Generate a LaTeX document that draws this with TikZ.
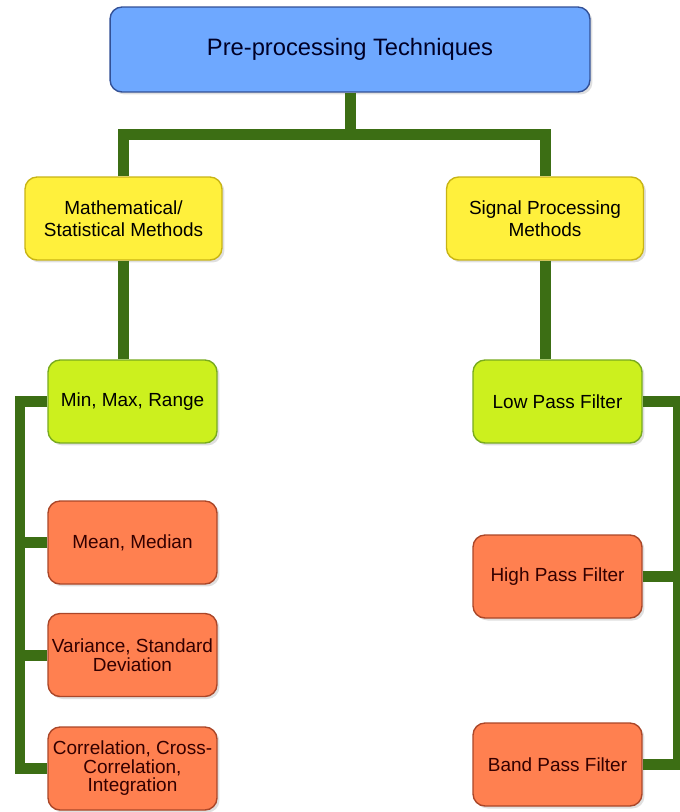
\documentclass[tikz,border=0pt]{standalone}
\usepackage{fontspec}
\setmainfont{Liberation Sans}
\usetikzlibrary{shadows}

\definecolor{topblue}{RGB}{110,168,255}
\definecolor{topedge}{RGB}{50,80,150}
\definecolor{methyellow}{RGB}{255,240,60}
\definecolor{methedge}{RGB}{200,180,20}
\definecolor{limegreen}{RGB}{204,240,30}
\definecolor{limeedge}{RGB}{120,170,30}
\definecolor{salmon}{RGB}{255,128,80}
\definecolor{salmonedge}{RGB}{170,70,40}
\definecolor{linkgreen}{RGB}{60,110,20}

\begin{document}
\begin{tikzpicture}[x=0.02cm,y=-0.02cm,
  box/.style={rounded corners=0.24cm,draw,line width=0.8pt,align=center,inner sep=0pt,
    minimum width=3.38cm,minimum height=1.66cm,
    font=\fontsize{10.8}{10.5}\selectfont,
    drop shadow={shadow xshift=0.05cm,shadow yshift=-0.05cm,opacity=0.25}},
  topbox/.style={box,fill=topblue,draw=topedge,text=black!85!blue,
    minimum width=9.6cm,minimum height=1.7cm,font=\fontsize{13.5}{14}\selectfont},
  groupbox/.style={box,fill=methyellow,draw=methedge,minimum width=3.94cm,
    font=\fontsize{10.8}{12.5}\selectfont},
  firstbox/.style={box,fill=limegreen,draw=limeedge},
  otherbox/.style={box,fill=salmon,draw=salmonedge,text=black!80!red},
  link/.style={draw=linkgreen,line width=0.22cm}]
\useasboundingbox (0,0) rectangle (680,812);

\node[topbox] (top) at (350,49.5) {Pre-processing Techniques};
\node[groupbox] (math) at (123.5,218.5) {Mathematical/\\Statistical Methods};
\node[groupbox] (sig) at (545,218.5) {Signal Processing\\Methods};

\coordinate (split) at (350,134);
\coordinate (lbus) at (20,0);
\coordinate (rbus) at (678,0);

\draw[link] (top.south) -- (split);
\draw[link] (math.north) |- (split) -| (sig.north);

% statistical side
\node[firstbox] (minmax) at (132.5,401.5) {Min, Max, Range};
\node[otherbox] (mean) at (132.5,542.5) {Mean, Median};
\node[otherbox] (var) at (132.5,655) {Variance, Standard\\Deviation};
\node[otherbox] (corr) at (132.5,768.5) {Correlation, Cross-\\Correlation,\\Integration};
\draw[link] (math.south) -- (math.south |- minmax.north);
\draw[link] (minmax.west) -- (minmax.west -| lbus) |- (corr.west);
\draw[link] (mean.west) -- (mean.west -| lbus);
\draw[link] (var.west) -- (var.west -| lbus);

% filter side
\node[firstbox] (low) at (557.5,401.5) {Low Pass Filter};
\node[otherbox] (high) at (557.5,576.5) {High Pass Filter};
\node[otherbox] (band) at (557.5,764.5) {Band Pass Filter};
\draw[link] (sig.south) -- (sig.south |- low.north);
\draw[link] (low.east) -- (low.east -| rbus) |- (band.east);
\draw[link] (high.east) -- (high.east -| rbus);
\end{tikzpicture}
\end{document}
